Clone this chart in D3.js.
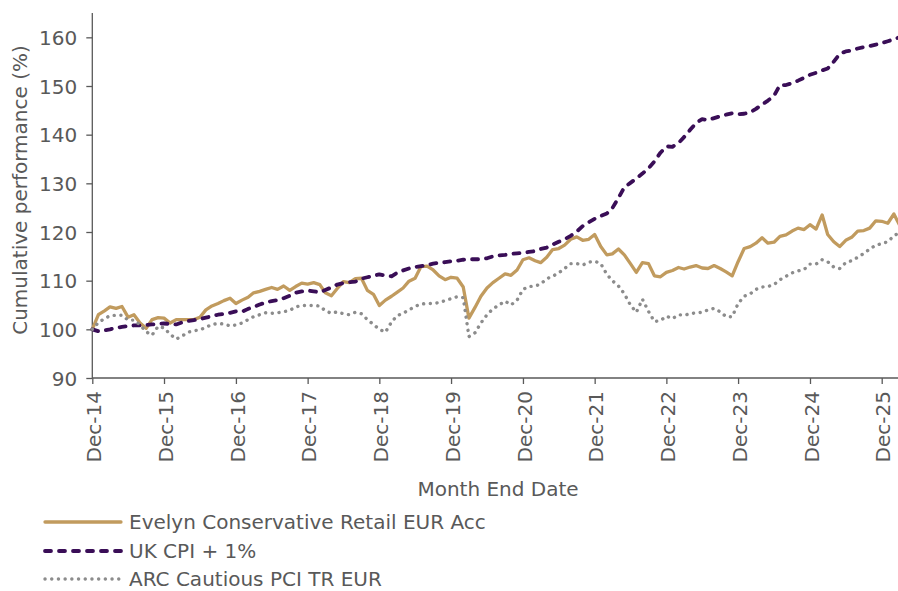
<!DOCTYPE html>
<html><head><meta charset="utf-8">
<script src="https://cdn.jsdelivr.net/npm/d3@7"></script>
<style>
html,body{margin:0;padding:0;background:#fff;}
svg text{font-family:"DejaVu Sans",sans-serif;fill:#595959;}
</style></head>
<body><svg id="chart" width="898" height="591"></svg>
<script>
const startMonth = new Date(2014, 11, 1);
const seriesNames = ["Evelyn Conservative Retail EUR Acc", "UK CPI + 1%", "ARC Cautious PCI TR EUR"];
const evelyn = [100,103.0,103.8,104.6,104.3,104.7,102.5,103.0,101.3,100.2,102.0,102.4,102.3,101.3,102.0,102.0,102.0,102.0,102.5,104.0,104.8,105.3,105.9,106.4,105.3,106.0,106.6,107.5,107.8,108.2,108.6,108.2,108.9,108.0,108.8,109.5,109.3,109.6,109.2,107.5,106.9,108.4,109.8,109.6,110.4,110.5,108.0,107.2,104.9,106.0,106.8,107.6,108.5,109.9,110.5,112.9,113.0,112.2,111.0,110.2,110.7,110.5,108.7,102.3,104.5,106.8,108.5,109.6,110.5,111.4,111.1,112.2,114.3,114.7,114.1,113.7,114.8,116.4,116.6,117.3,118.5,119.0,118.3,118.5,119.5,117.0,115.3,115.5,116.5,115.3,113.5,111.7,113.7,113.5,111.0,110.8,111.7,112.1,112.7,112.4,112.8,113.1,112.6,112.5,113.1,112.5,111.8,111.0,113.9,116.6,117.0,117.7,118.8,117.7,117.9,119.1,119.4,120.2,120.8,120.5,121.5,120.6,123.5,119.5,118.0,117.0,118.3,118.9,120.2,120.3,120.8,122.3,122.2,121.8,123.7,121.5];
const ukCpi = [100,99.6,99.8,100.0,100.3,100.5,100.7,100.8,100.8,100.9,101.0,101.1,101.2,101.1,101.0,101.4,101.7,101.9,102.1,102.4,102.7,103.0,103.2,103.4,103.7,103.6,104.2,104.6,105.1,105.5,105.8,106.0,106.4,106.9,107.5,107.8,108.0,107.8,107.6,108.1,108.6,109.2,109.5,109.7,109.8,110.4,110.7,111.0,111.3,111.0,110.9,111.6,112.1,112.5,112.8,113.0,113.2,113.5,113.7,113.8,114.0,114.1,114.3,114.4,114.4,114.4,114.6,115.0,115.2,115.3,115.5,115.6,115.7,115.9,116.1,116.5,116.8,117.4,118.0,118.5,119.2,120.1,121.2,122.0,122.7,123.3,123.8,124.9,127.0,129.2,130.1,131.0,132.0,133.1,134.5,136.3,137.6,137.5,138.3,139.5,141.0,142.4,143.2,143.0,143.4,143.8,144.1,144.4,144.2,144.3,144.6,145.3,146.2,147.0,148.0,150.2,150.2,150.6,151.1,151.7,152.3,152.7,153.2,153.6,155.0,156.6,157.1,157.3,157.7,158.0,158.2,158.5,158.8,159.2,159.6,160.0];
const arc = [100,101.4,102.2,102.8,102.9,102.9,101.9,101.9,100.9,99.5,98.8,100.6,100.3,99.0,98.0,98.6,99.4,99.7,99.9,100.4,101.0,101.2,101.1,100.7,100.9,101.3,102.0,102.6,103.0,103.4,103.3,103.4,103.6,103.9,104.6,104.9,104.9,104.9,104.8,103.8,103.3,103.6,103.2,103.0,103.5,103.2,102.0,101.0,100.0,99.4,101.5,102.8,103.3,104.0,104.7,105.2,105.3,105.3,105.5,105.9,106.3,106.7,106.5,98.5,99.3,101.3,103.0,104.2,105.0,105.8,105.0,106.0,108.2,108.8,108.9,109.3,110.4,110.9,111.6,112.5,113.5,113.5,113.2,113.8,114.0,113.5,111.3,110.0,108.9,107.3,105.0,103.5,106.2,103.7,101.6,101.8,102.7,102.2,103.0,102.9,103.2,103.4,103.5,104.0,104.3,103.6,102.6,102.6,105.3,106.8,107.3,108.2,108.7,108.8,109.2,110.2,110.9,111.6,112.0,112.3,113.4,113.4,114.3,113.9,112.8,112.5,113.7,114.1,114.8,115.6,116.5,117.3,117.6,118.0,119.2,119.9];
const yTicks = [90,100,110,120,130,140,150,160];
const xTickLabels = ["Dec-14","Dec-15","Dec-16","Dec-17","Dec-18","Dec-19","Dec-20","Dec-21","Dec-22","Dec-23","Dec-24","Dec-25"];

const months = evelyn.map((_, i) => d3.timeMonth.offset(startMonth, i));
const xTickDates = xTickLabels.map((_, i) => d3.timeMonth.offset(startMonth, 12 * i));

const svg = d3.select("#chart");
const x = d3.scaleTime().domain([startMonth, xTickDates[xTickDates.length - 1]]).range([92.3, 881.7]);
const y = d3.scaleLinear().domain([90, 165]).range([378, 13]);
const axisColor = "#595959";
const fs = 20;

// y axis
const yAxis = svg.append("g").attr("transform", "translate(92.3,0)")
  .call(d3.axisLeft(y).tickValues(yTicks).tickSize(6).tickPadding(9).tickFormat(d3.format("d")));
yAxis.select(".domain").attr("stroke", axisColor).attr("stroke-width", 1.3).attr("d", "M0,13V378");
yAxis.selectAll(".tick line").attr("stroke", axisColor).attr("stroke-width", 1.3);
yAxis.selectAll(".tick text").attr("font-size", fs).attr("fill", "#595959").attr("dy", "0.36em");

// x axis
const xAxis = svg.append("g").attr("transform", "translate(0,378)")
  .call(d3.axisBottom(x).tickValues(xTickDates).tickSize(6).tickFormat((d, i) => xTickLabels[i]));
xAxis.select(".domain").attr("stroke", axisColor).attr("stroke-width", 1.3).attr("d", "M92.3,0H898");
xAxis.selectAll(".tick line").attr("stroke", axisColor).attr("stroke-width", 1.3);
xAxis.selectAll(".tick text")
  .attr("font-size", fs).attr("fill", "#595959")
  .attr("transform", "rotate(-90)")
  .attr("text-anchor", "end")
  .attr("x", -13).attr("y", 1).attr("dy", "0.36em").attr("dx", 0);

// axis titles
svg.append("text").attr("transform", "translate(27,190) rotate(-90)")
  .attr("text-anchor", "middle").attr("font-size", fs).text("Cumulative performance (%)");
svg.append("text").attr("x", 498).attr("y", 496)
  .attr("text-anchor", "middle").attr("font-size", fs).text("Month End Date");

const line = d3.line().x((d, i) => x(months[i])).y(d => y(d));

const styles = [
  {data: evelyn, color: "#C19B5E", width: 3.3, dash: null},
  {data: ukCpi, color: "#3A0E57", width: 3.8, dash: "6 8"},
  {data: arc, color: "#8C8C8C", width: 3.4, dash: "0.1 6.6"}
];
styles.forEach(s => {
  svg.append("path").datum(s.data).attr("d", line)
    .attr("fill", "none").attr("stroke", s.color).attr("stroke-width", s.width)
    .attr("stroke-linejoin", "round").attr("stroke-linecap", "round")
    .attr("stroke-dasharray", s.dash);
});

// legend
const legY = [522, 551, 579];
styles.forEach((s, i) => {
  svg.append("line").attr("x1", 45).attr("x2", 121).attr("y1", legY[i]).attr("y2", legY[i])
    .attr("stroke", s.color).attr("stroke-width", s.width)
    .attr("stroke-linecap", "round").attr("stroke-dasharray", s.dash);
  svg.append("text").attr("x", 129).attr("y", legY[i] + 7).attr("font-size", fs).text(seriesNames[i]);
});
</script></body></html>
